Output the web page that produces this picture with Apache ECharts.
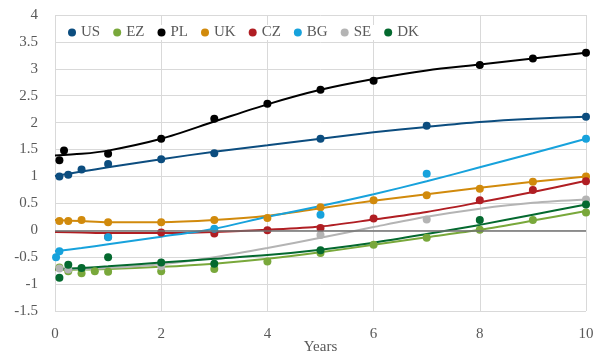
<!DOCTYPE html>
<html>
<head>
<meta charset="utf-8">
<script src="https://cdn.jsdelivr.net/npm/echarts@6/dist/echarts.min.js"></script>
<style>
  html, body { margin: 0; padding: 0; background: #ffffff; }
  #chart { width: 603px; height: 356px; }
</style>
</head>
<body>
<div id="chart"></div>
<script>
// Government bond yield curves: observed yields (dots) and fitted curves (lines)
const countries = ['US', 'EZ', 'PL', 'UK', 'CZ', 'BG', 'SE', 'DK'];
const colors = ['#0c4d7f', '#79a83b', '#000000', '#d18a0c', '#b01e23', '#17a2dc', '#b4b4b4', '#04692f'];

// Observed yields: maturities (years) and yields (%)
const usYears = [0.083, 0.25, 0.5, 1, 2, 3, 5, 7, 10];
const usYields = [1.00, 1.03, 1.13, 1.23, 1.32, 1.43, 1.70, 1.94, 2.11];
const ezYears = [0.083, 0.25, 0.5, 0.75, 1, 2, 3, 4, 5, 6, 7, 8, 9, 10];
const ezYields = [-0.69, -0.76, -0.80, -0.76, -0.77, -0.76, -0.72, -0.58, -0.42, -0.27, -0.14, 0.01, 0.19, 0.33];
const plYears = [0.083, 0.17, 1, 2, 3, 4, 5, 6, 8, 9, 10];
const plYields = [1.30, 1.48, 1.42, 1.70, 2.07, 2.35, 2.61, 2.78, 3.07, 3.19, 3.30];
const ukYears = [0.083, 0.25, 0.5, 1, 2, 3, 4, 5, 6, 7, 8, 9, 10];
const ukYields = [0.17, 0.17, 0.19, 0.15, 0.15, 0.19, 0.23, 0.43, 0.56, 0.65, 0.77, 0.90, 1.00];
const czYears = [1, 2, 3, 4, 5, 6, 8, 9, 10];
const czYields = [-0.12, -0.04, -0.06, 0.00, 0.04, 0.22, 0.56, 0.75, 0.91];
const bgYears = [0.02, 0.083, 1, 3, 5, 7, 10];
const bgYields = [-0.50, -0.39, -0.13, 0.03, 0.29, 1.05, 1.70];
const seYears = [0.083, 0.25, 2, 5, 7, 10];
const seYields = [-0.71, -0.73, -0.67, -0.09, 0.20, 0.57];
const dkYears = [0.083, 0.25, 0.5, 1, 2, 3, 5, 8, 10];
const dkYields = [-0.88, -0.64, -0.70, -0.50, -0.60, -0.62, -0.37, 0.19, 0.48];

// Fitted curves, evaluated at these maturities
const fitYears = [0, 0.5, 1, 2, 3, 4, 5, 6, 7, 8, 9, 10];
const usFit = [1.01, 1.09, 1.17, 1.32, 1.46, 1.58, 1.70, 1.82, 1.92, 2.01, 2.07, 2.11];
const ezFit = [-0.74, -0.73, -0.72, -0.68, -0.62, -0.53, -0.41, -0.27, -0.13, 0.01, 0.18, 0.36];
const plFit = [1.39, 1.42, 1.48, 1.70, 2.02, 2.34, 2.61, 2.81, 2.97, 3.08, 3.19, 3.30];
const ukFit = [0.19, 0.17, 0.15, 0.15, 0.19, 0.27, 0.41, 0.55, 0.67, 0.79, 0.90, 1.00];
const czFit = [-0.03, -0.04, -0.05, -0.05, -0.03, 0.01, 0.07, 0.20, 0.34, 0.52, 0.71, 0.92];
const bgFit = [-0.39, -0.33, -0.26, -0.12, 0.03, 0.25, 0.45, 0.67, 0.91, 1.17, 1.43, 1.70];
const seFit = [-0.72, -0.72, -0.70, -0.63, -0.50, -0.33, -0.14, 0.06, 0.25, 0.40, 0.51, 0.57];
const dkFit = [-0.72, -0.70, -0.67, -0.60, -0.53, -0.46, -0.36, -0.23, -0.07, 0.10, 0.29, 0.48];

// Axis ticks
const xTicks = { min: 0, max: 10, step: 2 };
const yTicks = { min: -1.5, max: 4, step: 0.5 };

const observed = [
  [usYears, usYields], [ezYears, ezYields], [plYears, plYields], [ukYears, ukYields],
  [czYears, czYields], [bgYears, bgYields], [seYears, seYields], [dkYears, dkYields]
];
const fitted = [usFit, ezFit, plFit, ukFit, czFit, bgFit, seFit, dkFit];

const zip = (xs, ys) => xs.map((x, i) => [x, ys[i]]);

const font = 'Liberation Serif';
const textGrey = '#595959';
const gridGrey = '#d9d9d9';

const series = [];
countries.forEach((c, i) => {
  series.push({
    name: c + ' fit',
    type: 'line',
    data: zip(fitYears, fitted[i]),
    smooth: 0.3,
    showSymbol: false,
    symbol: 'none',
    lineStyle: { color: colors[i], width: 2 },
    z: 3,
    silent: true
  });
});
countries.forEach((c, i) => {
  series.push({
    name: c,
    type: 'scatter',
    data: zip(observed[i][0], observed[i][1]),
    symbol: 'circle',
    symbolSize: 8,
    itemStyle: { color: colors[i], opacity: 1 },
    z: 4
  });
});
// Zero reference line
series.push({
  name: 'zero',
  type: 'line',
  data: [],
  markLine: {
    silent: true,
    symbol: ['none', 'none'],
    label: { show: false },
    lineStyle: { color: '#707070', width: 1.5, type: 'solid' },
    data: [{ yAxis: 0 }]
  },
  z: 2
});

const chart = echarts.init(document.getElementById('chart'), null, { renderer: 'canvas' });
chart.setOption({
  animation: false,
  backgroundColor: '#ffffff',
  textStyle: { fontFamily: font },
  grid: { left: 55, right: 17, top: 15, bottom: 45, containLabel: false, outerBoundsMode: 'none' },
  legend: {
    data: countries.map(c => ({ name: c, icon: 'circle' })),
    left: 68,
    top: 25,
    padding: 0,
    itemWidth: 8,
    itemHeight: 8,
    itemGap: 13,
    textStyle: { color: textGrey, fontSize: 15, fontFamily: font },
    backgroundColor: '#ffffff'
  },
  xAxis: {
    type: 'value',
    min: xTicks.min,
    max: xTicks.max,
    interval: xTicks.step,
    name: 'Years',
    nameLocation: 'middle',
    nameGap: 29,
    nameMoveOverlap: false,
    nameTextStyle: { color: textGrey, fontSize: 15, fontFamily: font },
    axisLine: { show: false, onZero: false },
    axisTick: { show: false },
    axisLabel: { color: textGrey, fontSize: 15, fontFamily: font, margin: 16 },
    splitLine: { show: true, lineStyle: { color: gridGrey, width: 1 } }
  },
  yAxis: {
    type: 'value',
    min: yTicks.min,
    max: yTicks.max,
    interval: yTicks.step,
    axisLine: { show: false },
    axisTick: { show: false },
    axisLabel: { color: textGrey, fontSize: 15, fontFamily: font, margin: 17 },
    splitLine: { show: true, lineStyle: { color: gridGrey, width: 1 } }
  },
  series: series
});
</script>
</body>
</html>
